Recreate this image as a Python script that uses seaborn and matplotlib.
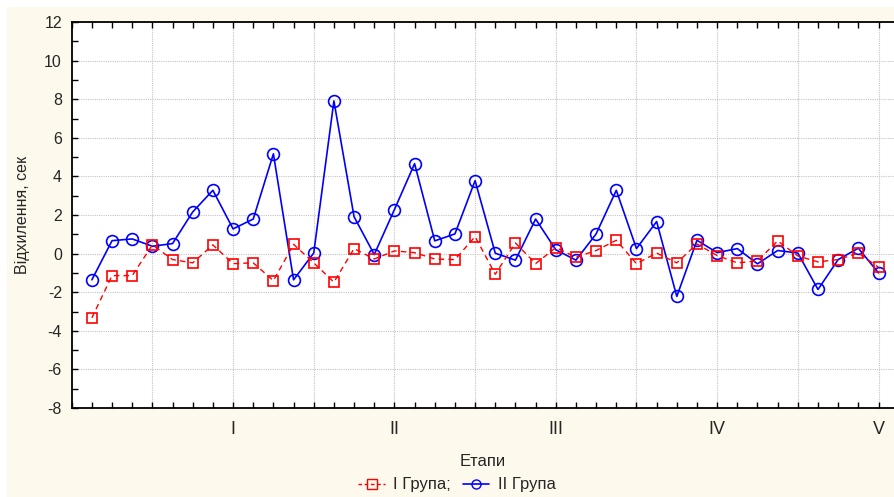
import numpy as np
import pandas as pd
import matplotlib
matplotlib.use("Agg")
import matplotlib.pyplot as plt
import seaborn as sns
from matplotlib.lines import Line2D
from matplotlib.patches import Rectangle
from matplotlib.ticker import FixedLocator, MultipleLocator

# ---- data ----
group1 = [-3.33, -1.14, -1.14, 0.45, -0.31, -0.48, 0.45, -0.52, -0.48, -1.40,
          0.48, -0.48, -1.48, 0.26, -0.28, 0.14, 0.05, -0.28, -0.31, 0.88,
          -1.07, 0.55, -0.52, 0.31, -0.19, 0.16, 0.69, -0.52, 0.03, -0.48,
          0.50, -0.10, -0.48, -0.38, 0.66, -0.12, -0.43, -0.31, 0.03, -0.71]
group2 = [-1.36, 0.67, 0.76, 0.38, 0.52, 2.16, 3.28, 1.28, 1.79, 5.17,
          -1.36, 0.03, 7.91, 1.91, -0.05, 2.28, 4.66, 0.66, 1.02, 3.78,
          0.02, -0.34, 1.79, 0.20, -0.34, 1.02, 3.28, 0.26, 1.66, -2.22,
          0.69, 0.05, 0.26, -0.53, 0.16, 0.03, -1.86, -0.31, 0.28, -1.00]
stage_labels = ["I", "II", "III", "IV", "V"]
series_names = ["I Група;", "II Група"]

steps = np.arange(len(group1))
df = pd.DataFrame({"step": np.concatenate([steps, steps]),
                   "value": group1 + group2,
                   "group": [series_names[0]] * len(group1) + [series_names[1]] * len(group2)})

sns.set_style("white")
plt.rcParams['font.family'] = ['Liberation Sans', 'DejaVu Sans']

W, H = 894, 497
fig = plt.figure(figsize=(W / 100, H / 100), dpi=100, facecolor="white")
cream = "#fdf9ec"
fig.patches.append(Rectangle((7 / W, 0), 1, 1 - 7 / H, transform=fig.transFigure,
                             facecolor=cream, edgecolor="none", zorder=-10))

left, right, top, bottom = 71.7, 894, 22, 408
ax = fig.add_axes([left / W, 1 - bottom / H, (right - left) / W, (bottom - top) / H])
ax.set_facecolor("white")

red, blue = "#ff0000", "#0000ff"
d1 = df[df.group == series_names[0]]
d2 = df[df.group == series_names[1]]
sns.lineplot(data=d1, x="step", y="value", ax=ax, color=red, linestyle=(0, (4, 3)),
             linewidth=1.0, marker="s", markersize=7.5, markerfacecolor="none",
             markeredgecolor=red, markeredgewidth=1.2, zorder=3)
sns.lineplot(data=d2, x="step", y="value", ax=ax, color=blue, linewidth=1.2,
             marker="o", markersize=8.5, markerfacecolor="none",
             markeredgecolor=blue, markeredgewidth=1.2, zorder=2)

ax.set_xlim(-1, -1 + (right - left) / 20.17)
ax.set_ylim(-8, 12)

major_x = list(range(3, len(steps), 4))
ax.xaxis.set_major_locator(FixedLocator(major_x))
lab = []
k = 0
for m in major_x:
    if (m + 1) % 8 == 0:
        lab.append(stage_labels[k]); k += 1
    else:
        lab.append("")
ax.set_xticklabels(lab, fontsize=13)
ax.xaxis.set_minor_locator(MultipleLocator(1))
ax.set_yticks(np.arange(-8, 13, 2))
ax.yaxis.set_minor_locator(MultipleLocator(1))
ax.set_yticklabels([str(v) for v in range(-8, 13, 2)], fontsize=11.5)

ax.tick_params(axis="both", which="both", direction="in", length=4, width=1, color="black")
ax.tick_params(axis="x", which="both", top=True, bottom=True, pad=9)
ax.tick_params(axis="y", which="both", left=True, right=False, pad=7)

ax.grid(True, which="major", color="#c4c4c4", linestyle=(0, (1, 1)), linewidth=0.8)
ax.set_axisbelow(True)
for s in ["left", "bottom", "top"]:
    ax.spines[s].set_color("black")
    ax.spines[s].set_linewidth(1.3)
ax.spines["right"].set_visible(False)

ax.set_xlabel("Етапи", fontsize=12, labelpad=12)
ax.set_ylabel("Відхилення, сек", fontsize=11.5, labelpad=10)
if ax.get_legend():
    ax.get_legend().remove()

handles = [Line2D([], [], color=red, linestyle=(0, (2.5, 2)), linewidth=1.0, marker="s",
                  markersize=6.5, markerfacecolor="none", markeredgecolor=red),
           Line2D([], [], color=blue, linewidth=1.2, marker="o", markersize=6.5,
                  markerfacecolor="none", markeredgecolor=blue)]
fig.legend(handles, series_names, loc="center", bbox_to_anchor=(457 / W, 1 - 485 / H),
           ncol=2, frameon=False, prop={"size": 12},
           handlelength=1.6, handletextpad=0.5, columnspacing=0.7)

fig.savefig("out.png", dpi=100, facecolor=fig.get_facecolor())
